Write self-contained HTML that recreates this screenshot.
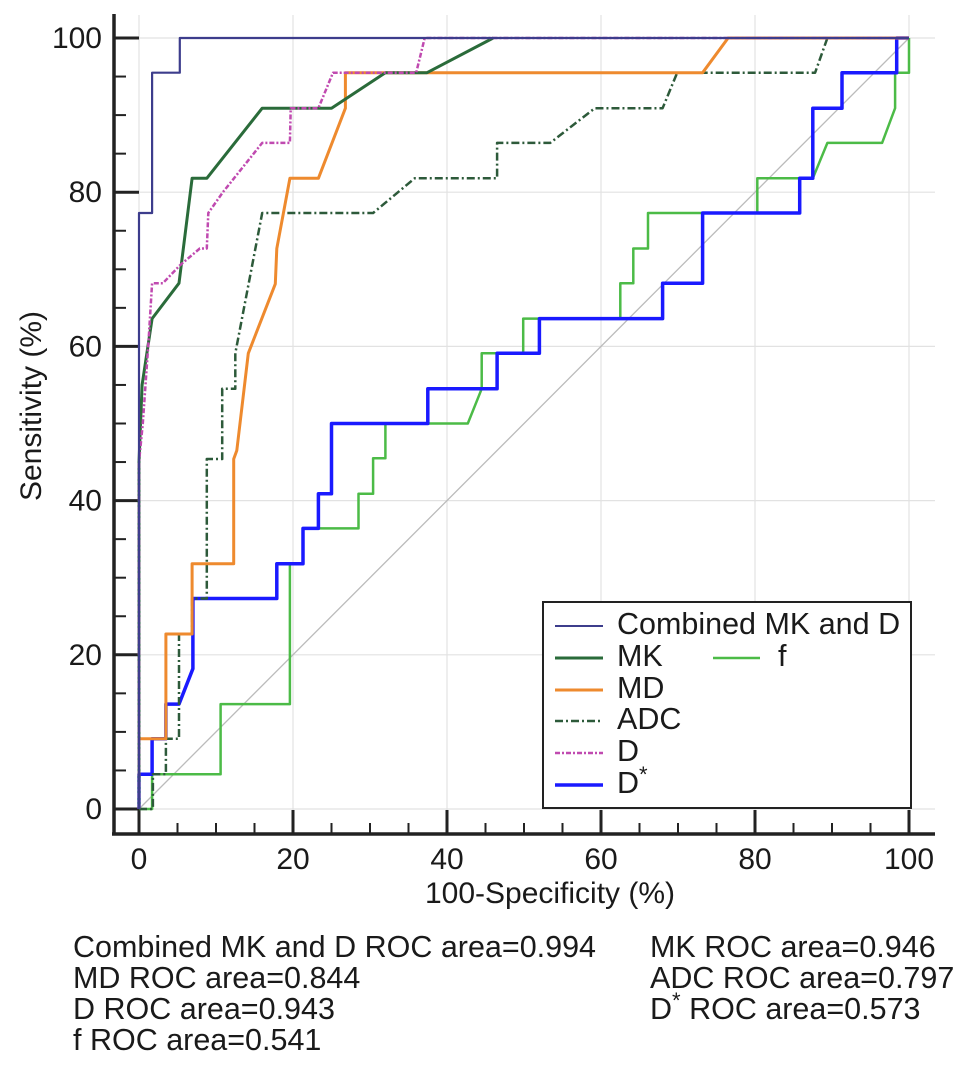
<!DOCTYPE html>
<html><head><meta charset="utf-8"><style>
body{margin:0;background:#fff;width:969px;height:1084px;overflow:hidden;font-family:"Liberation Sans",sans-serif}
svg text{font-family:"Liberation Sans",sans-serif;fill:#1a1a1a}
</style></head><body>
<svg id="chart" width="969" height="1084" xmlns="http://www.w3.org/2000/svg">
<g id="grid"></g>
<g id="axes"></g>
<g id="curves"></g>
<g>
<rect x="543" y="602" width="368" height="206" fill="#fff" stroke="#222" stroke-width="2"/>
<line x1="555" y1="626" x2="603" y2="626" stroke="#3d3d8c" stroke-width="2"/>
<text x="617" y="634" font-size="30.5">Combined MK and D</text>
<line x1="555" y1="658" x2="603" y2="658" stroke="#2a6b3a" stroke-width="3"/>
<text x="617" y="666" font-size="30.5">MK</text>
<line x1="713" y1="658" x2="760" y2="658" stroke="#4cbb47" stroke-width="2.5"/>
<text x="778" y="666" font-size="30.5">f</text>
<line x1="555" y1="690" x2="603" y2="690" stroke="#ee8a2e" stroke-width="3"/>
<text x="617" y="698" font-size="30.5">MD</text>
<line x1="555" y1="721" x2="603" y2="721" stroke="#2d5a3a" stroke-width="2.5" stroke-dasharray="8,3,2,3"/>
<text x="617" y="729" font-size="30.5">ADC</text>
<line x1="555" y1="753" x2="603" y2="753" stroke="#c04ab0" stroke-width="2.5" stroke-dasharray="5,2,2,2"/>
<text x="617" y="761" font-size="30.5">D</text>
<line x1="555" y1="785" x2="603" y2="785" stroke="#1a1aff" stroke-width="3.5"/>
<text x="617" y="793" font-size="30.5">D<tspan font-size="22" dy="-11">*</tspan></text>
</g>
<text x="550" y="903" font-size="30" text-anchor="middle">100-Specificity (%)</text>
<text x="0" y="0" font-size="30" text-anchor="middle" transform="translate(41,406) rotate(-90)">Sensitivity (%)</text>
<g font-size="30.5">
<text x="73" y="957">Combined MK and D ROC area=0.994</text>
<text x="73" y="988">MD ROC area=0.844</text>
<text x="73" y="1019">D ROC area=0.943</text>
<text x="73" y="1050">f ROC area=0.541</text>
<text x="650" y="957">MK ROC area=0.946</text>
<text x="650" y="988">ADC ROC area=0.797</text>
<text x="650" y="1019">D<tspan font-size="22" dy="-11">*</tspan><tspan dy="11"> ROC area=0.573</tspan></text>
</g>
</svg>
<script>
const xTicks=[0,20,40,60,80,100];
const yTicks=[0,20,40,60,80,100];
const combinedX=[0,0,1.7,1.7,5.3,5.3,100];
const combinedY=[0,77.3,77.3,95.5,95.5,100,100];
const mkX=[0,0,0.4,1.7,5.2,6.9,8.8,16,25,32,37.4,46];
const mkY=[0,45,55,63.6,68.2,81.8,81.8,90.9,90.9,95.5,95.5,100];
const mdX=[0,0,3.5,3.5,6.9,6.9,12.3,12.3,12.7,14.2,17.7,17.9,19.6,23.3,26.8,26.8,73.2,76.5,100];
const mdY=[0,9.1,9.1,22.7,22.7,31.8,31.8,45.4,46.5,59.1,68.1,72.7,81.8,81.8,90.9,95.5,95.5,100,100];
const adcX=[0,1.8,1.8,3.5,3.5,5.2,5.2,6.9,6.9,8.8,8.8,10.8,10.8,12.5,12.5,16,30.4,35.8,46.5,46.5,53.4,59.2,68,69.9,87.8,89.4,100];
const adcY=[0,0,4.5,4.5,9.1,9.1,22.7,22.7,27.3,27.3,45.4,45.4,54.5,54.5,59.1,77.3,77.3,81.8,81.8,86.4,86.4,90.9,90.9,95.5,95.5,100,100];
const dX=[0,0,0.5,1.2,1.7,3.1,5.3,7.9,8.8,9,10.9,16,19.6,19.7,23.3,25.2,36,37.1,100];
const dY=[0,45,50,60,68.2,68.2,70.5,72.7,72.7,77.3,80,86.4,86.4,90.9,90.9,95.5,95.5,100,100];
const dstarX=[0,0,1.7,1.7,3.5,3.5,5.2,7,7,17.9,17.9,21.3,21.3,23.3,23.3,25,25,37.5,37.5,46.5,46.5,52,52,68,68,73.2,73.2,85.8,85.8,87.5,87.5,91.3,91.3,98.4,98.4,100];
const dstarY=[0,4.5,4.5,9.1,9.1,13.6,13.6,18.2,27.3,27.3,31.8,31.8,36.4,36.4,40.9,40.9,50,50,54.5,54.5,59.1,59.1,63.6,63.6,68.2,68.2,77.3,77.3,81.8,81.8,90.9,90.9,95.5,95.5,100,100];
const fX=[0,1.7,1.7,10.6,10.6,19.6,19.6,21.3,21.3,28.5,28.5,30.4,30.4,32,32,42.7,44.5,44.5,49.9,49.9,62.5,62.5,64.2,64.2,66.1,66.1,80.3,80.3,87.5,89.4,96.5,98.2,98.2,100,100];
const fY=[0,0,4.5,4.5,13.6,13.6,31.8,31.8,36.4,36.4,40.9,40.9,45.5,45.5,50,50,54.5,59.1,59.1,63.6,63.6,68.2,68.2,72.7,72.7,77.3,77.3,81.8,81.8,86.4,86.4,90.9,95.5,95.5,100];

const NS="http://www.w3.org/2000/svg";
const sx=v=>139+v*7.7;
const sy=v=>809-v*7.71;
function mk(tag,attrs,parent){const e=document.createElementNS(NS,tag);for(const k in attrs)e.setAttribute(k,attrs[k]);parent.appendChild(e);return e;}
const grid=document.getElementById('grid'),axes=document.getElementById('axes'),curves=document.getElementById('curves');
xTicks.forEach(t=>{
 const g=mk('line',{x1:sx(t),x2:sx(t),y1:15,y2:834,stroke:'#e2e2e2','stroke-width':1.2},grid);
 
 
 const l=mk('text',{x:sx(t),y:869,'font-size':30,'text-anchor':'middle'},axes);l.textContent=t;
 
 
});
yTicks.forEach(t=>{
 const g=mk('line',{x1:114,x2:935,y1:sy(t),y2:sy(t),stroke:'#e2e2e2','stroke-width':1.2},grid);
 
 
 const l=mk('text',{x:102,y:sy(t)+10,'font-size':30,'text-anchor':'end'},axes);l.textContent=t;
 
 
});
for(let v=0;v<=100;v+=5){
 const major=v%20===0;
 mk('line',{x1:sx(v),x2:sx(v),y1:834,y2:major?810:823,stroke:'#222','stroke-width':major?3:2},axes);
 mk('line',{x1:114,x2:major?139:126,y1:sy(v),y2:sy(v),stroke:'#222','stroke-width':major?3:2},axes);
}
mk('line',{x1:114,x2:114,y1:14,y2:835,stroke:'#222','stroke-width':3.5},axes);
mk('line',{x1:112,x2:935,y1:834,y2:834,stroke:'#222','stroke-width':3.5},axes);
const diag=mk('line',{x1:sx(0),y1:sy(0),x2:sx(100),y2:sy(100),stroke:'#bbb','stroke-width':1.3},curves);


function series(xs,ys,stroke,w,dash,name){
 const d=xs.map((x,i)=>(i?'L':'M')+sx(x).toFixed(1)+','+sy(ys[i]).toFixed(1)).join(' ');
 const p=mk('path',{d:d,fill:'none',stroke:stroke,'stroke-width':w,'stroke-linejoin':'round'},curves);
 if(dash)p.setAttribute('stroke-dasharray',dash);
 
 
}
series(fX,fY,'#4cbb47',2.5,null,'curve-f');
series(dstarX,dstarY,'#1a1aff',3.5,null,'curve-dstar');
series(adcX,adcY,'#2d5a3a',2.5,'8,3,2,3','curve-adc');
series(mdX,mdY,'#ee8a2e',3,null,'curve-md');
series(mkX,mkY,'#2a6b3a',3,null,'curve-mk');
series(dX,dY,'#c04ab0',2.5,'5,2,2,2','curve-d');
series(combinedX,combinedY,'#3d3d8c',2.2,null,'curve-combined');
</script>
</body></html>
